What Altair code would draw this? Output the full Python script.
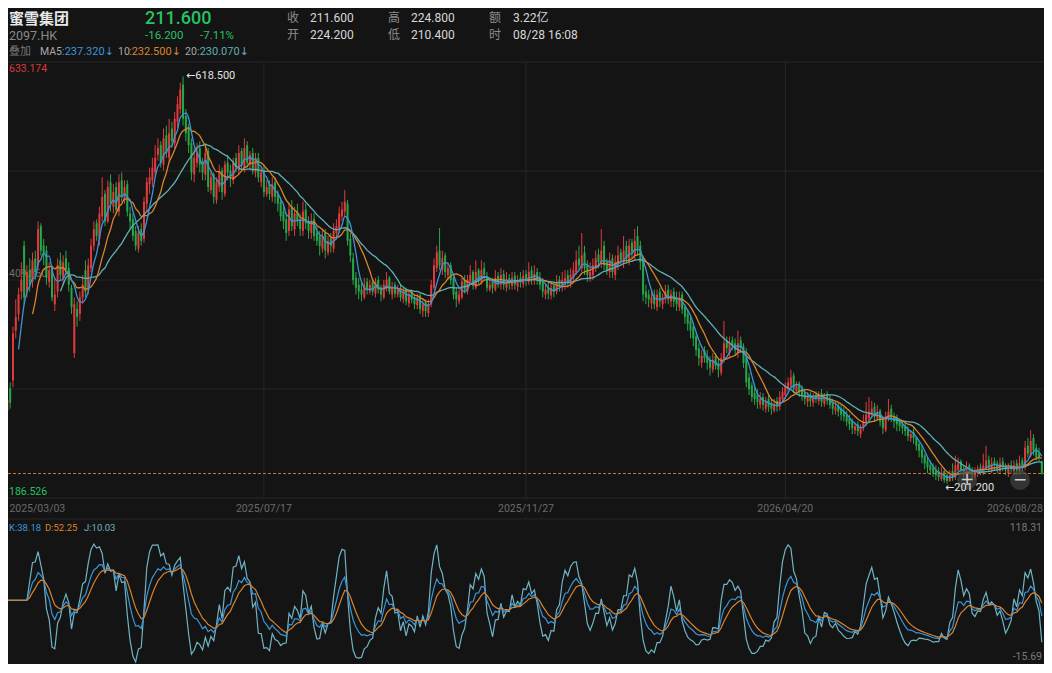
import altair as alt
import pandas as pd

# ---------------- data ----------------
opens = [
    276, 299, 307, 358, 375, 398, 445, 398, 420, 408,
    432, 425, 465, 445, 440, 408, 422, 385, 398, 430,
    412, 432, 422, 402, 335, 380, 375, 392, 420, 400,
    422, 445, 468, 452, 475, 498, 470, 510, 485, 505,
    480, 512, 492, 508, 478, 472, 460, 442, 462, 452,
    488, 508, 512, 520, 538, 548, 528, 558, 535, 565,
    550, 572, 585, 610, 578, 565, 550, 518, 530, 545,
    530, 518, 542, 502, 518, 492, 505, 522, 498, 530,
    522, 512, 535, 522, 542, 525, 548, 528, 540, 520,
    535, 510, 522, 498, 508, 495, 510, 498, 490, 480,
    472, 460, 485, 462, 480, 472, 460, 482, 470, 458,
    472, 458, 455, 442, 458, 438, 452, 442, 458, 462,
    475, 480, 488, 452, 432, 412, 405, 400, 392, 408,
    398, 408, 396, 410, 402, 392, 402, 412, 395, 405,
    395, 402, 390, 400, 386, 398, 392, 384, 394, 378,
    388, 376, 385, 402, 422, 440, 420, 435, 415, 425,
    412, 398, 388, 392, 410, 398, 408, 418, 402, 420,
    408, 422, 414, 400, 408, 400, 414, 405, 416, 402,
    412, 404, 414, 403, 412, 406, 416, 408, 420, 410,
    418, 412, 408, 395, 402, 394, 404, 398, 410, 402,
    405, 415, 406, 412, 418, 432, 422, 438, 425, 412,
    415, 422, 436, 428, 445, 428, 418, 432, 415, 425,
    438, 428, 445, 430, 448, 435, 455, 445, 432, 398,
    395, 386, 395, 382, 398, 385, 390, 400, 388, 398,
    392, 382, 395, 382, 375, 368, 362, 352, 340, 325,
    338, 332, 328, 318, 332, 325, 315, 328, 348, 335,
    348, 345, 335, 348, 342, 330, 310, 302, 294, 292,
    282, 290, 278, 288, 284, 276, 286, 280, 288, 292,
    298, 302, 312, 296, 304, 298, 295, 285, 292, 284,
    292, 286, 294, 283, 292, 288, 284, 276, 282, 278,
    275, 272, 268, 265, 256, 262, 252, 258, 264, 268,
    272, 280, 268, 276, 268, 256, 268, 278, 270, 268,
    265, 262, 260, 256, 248, 254, 248, 242, 236, 230,
    224, 220, 218, 215, 214, 206, 214, 210, 204, 214,
    208, 215, 224, 216, 210, 220, 216, 208, 212, 218,
    212, 218, 226, 215, 224, 222, 214, 224, 220, 212,
    220, 214, 222, 214, 225, 218, 240, 230, 248, 238,
    232, 224.2,
]
highs = [
    300, 305, 362, 390, 402, 428, 450, 425, 432, 438,
    440, 470, 468, 452, 445, 428, 425, 412, 432, 438,
    435, 440, 428, 405, 392, 388, 398, 415, 430, 432,
    452, 470, 472, 485, 515, 502, 512, 518, 508, 510,
    518, 520, 512, 512, 485, 478, 465, 465, 468, 495,
    515, 525, 535, 548, 555, 552, 565, 568, 575, 572,
    582, 598, 612, 618.5, 585, 570, 555, 545, 550, 552,
    535, 548, 545, 522, 520, 515, 528, 525, 532, 538,
    528, 535, 540, 548, 545, 555, 552, 542, 545, 540,
    540, 525, 528, 512, 512, 515, 515, 502, 495, 485,
    478, 490, 492, 485, 488, 478, 490, 488, 475, 478,
    478, 465, 460, 462, 462, 455, 458, 468, 472, 485,
    490, 502, 492, 458, 438, 418, 412, 408, 412, 412,
    410, 412, 412, 414, 405, 410, 418, 414, 408, 408,
    405, 405, 402, 402, 398, 400, 395, 396, 396, 390,
    390, 390, 410, 432, 445, 463, 440, 438, 428, 428,
    415, 402, 400, 412, 415, 415, 425, 420, 430, 422,
    430, 428, 418, 412, 412, 420, 418, 422, 420, 418,
    416, 418, 418, 415, 418, 420, 420, 428, 424, 425,
    422, 418, 412, 405, 408, 408, 408, 415, 414, 418,
    420, 420, 422, 428, 440, 445, 458, 445, 430, 428,
    432, 440, 442, 462, 450, 432, 438, 436, 435, 445,
    442, 455, 450, 452, 452, 462, 465, 450, 435, 405,
    400, 398, 400, 400, 402, 396, 405, 405, 400, 402,
    398, 398, 398, 385, 380, 372, 366, 355, 345, 338,
    342, 338, 332, 335, 335, 330, 335, 368, 352, 352,
    352, 350, 358, 352, 345, 340, 315, 305, 300, 298,
    295, 294, 290, 292, 288, 288, 290, 296, 300, 305,
    310, 318, 315, 306, 306, 302, 298, 295, 295, 294,
    296, 296, 298, 294, 296, 292, 288, 285, 285, 282,
    280, 276, 272, 268, 264, 265, 262, 272, 285, 290,
    286, 284, 282, 278, 270, 275, 288, 282, 274, 272,
    268, 266, 264, 260, 256, 258, 250, 245, 240, 232,
    228, 225, 222, 220, 218, 218, 216, 212, 215, 222,
    230, 228, 226, 220, 224, 222, 218, 218, 220, 222,
    232, 240, 230, 228, 228, 225, 228, 228, 222, 222,
    225, 225, 226, 230, 228, 245, 248, 256, 252, 242,
    238, 224.8,
]
lows = [
    266, 278, 300, 350, 368, 390, 385, 392, 398, 402,
    410, 420, 435, 425, 405, 402, 388, 378, 392, 410,
    405, 415, 398, 375, 330, 362, 368, 385, 392, 395,
    418, 440, 450, 445, 470, 465, 468, 480, 478, 478,
    475, 490, 488, 475, 462, 450, 440, 438, 445, 448,
    480, 498, 505, 515, 532, 525, 522, 535, 530, 545,
    545, 565, 580, 568, 552, 540, 512, 510, 525, 520,
    512, 512, 500, 498, 488, 488, 500, 492, 495, 512,
    505, 508, 520, 518, 522, 520, 525, 522, 518, 515,
    510, 505, 495, 495, 492, 490, 488, 480, 470, 462,
    450, 455, 460, 455, 465, 455, 455, 462, 452, 452,
    450, 445, 435, 438, 432, 435, 438, 438, 452, 458,
    470, 475, 445, 428, 405, 395, 390, 388, 390, 395,
    395, 394, 392, 396, 388, 390, 398, 395, 390, 392,
    392, 388, 386, 384, 382, 386, 380, 380, 375, 372,
    372, 372, 382, 400, 418, 420, 415, 412, 410, 405,
    390, 382, 385, 390, 396, 395, 405, 400, 400, 405,
    405, 410, 398, 398, 396, 398, 402, 400, 400, 398,
    400, 400, 400, 398, 402, 402, 404, 405, 405, 405,
    405, 400, 392, 390, 390, 390, 392, 395, 398, 398,
    400, 402, 402, 408, 415, 420, 418, 415, 408, 408,
    410, 418, 422, 422, 420, 415, 412, 412, 410, 420,
    425, 422, 428, 425, 432, 430, 435, 420, 388, 385,
    382, 380, 380, 378, 382, 380, 386, 385, 382, 382,
    378, 378, 375, 365, 358, 350, 342, 332, 322, 320,
    325, 318, 312, 315, 318, 310, 312, 325, 335, 330,
    338, 332, 330, 335, 320, 300, 292, 285, 282, 278,
    278, 276, 274, 275, 272, 274, 275, 276, 284, 288,
    295, 298, 294, 292, 290, 286, 282, 280, 280, 280,
    284, 282, 280, 280, 282, 278, 272, 272, 270, 266,
    265, 260, 256, 252, 252, 250, 248, 255, 260, 265,
    268, 265, 266, 260, 252, 254, 265, 264, 258, 255,
    255, 252, 250, 245, 244, 242, 235, 228, 222, 216,
    212, 210, 208, 205, 204, 204, 202, 201.2, 203, 204,
    205, 212, 212, 208, 208, 212, 206, 205, 208, 210,
    210, 215, 214, 212, 215, 212, 212, 214, 210, 208,
    212, 210, 210, 212, 212, 215, 228, 228, 230, 225,
    224, 210.4,
]
closes = [
    287, 284, 355, 372, 395, 410, 392, 418, 405, 430,
    418, 462, 440, 438, 412, 420, 392, 395, 425, 415,
    428, 420, 405, 382, 385, 372, 392, 405, 398, 425,
    445, 462, 455, 478, 495, 470, 505, 488, 500, 482,
    510, 495, 505, 480, 470, 455, 445, 458, 450, 490,
    510, 515, 525, 535, 545, 530, 555, 540, 560, 552,
    575, 590, 605, 575, 560, 548, 520, 535, 540, 528,
    520, 540, 505, 515, 495, 510, 520, 500, 528, 520,
    515, 530, 525, 540, 528, 545, 530, 538, 522, 535,
    515, 520, 500, 505, 498, 508, 495, 488, 475, 470,
    458, 482, 465, 478, 470, 462, 480, 468, 460, 470,
    455, 450, 445, 455, 440, 450, 445, 460, 465, 478,
    482, 490, 450, 435, 410, 402, 398, 395, 405, 400,
    405, 398, 408, 400, 395, 405, 410, 398, 402, 396,
    400, 392, 398, 388, 395, 390, 385, 392, 380, 385,
    378, 385, 405, 425, 438, 425, 432, 418, 422, 410,
    395, 390, 395, 408, 400, 410, 415, 405, 418, 410,
    420, 415, 402, 405, 402, 412, 408, 415, 405, 410,
    406, 412, 405, 410, 408, 414, 410, 418, 412, 416,
    410, 405, 398, 400, 396, 402, 398, 408, 404, 410,
    412, 408, 415, 420, 430, 425, 435, 422, 415, 418,
    425, 432, 428, 440, 425, 420, 430, 418, 428, 435,
    430, 440, 432, 445, 438, 450, 440, 428, 395, 392,
    390, 392, 385, 395, 388, 392, 398, 390, 395, 388,
    385, 392, 380, 372, 365, 358, 350, 338, 330, 332,
    330, 325, 320, 328, 322, 318, 330, 345, 340, 345,
    342, 338, 345, 340, 325, 305, 298, 290, 288, 285,
    288, 282, 285, 280, 278, 283, 280, 290, 295, 300,
    305, 310, 298, 302, 295, 292, 288, 290, 286, 290,
    288, 292, 285, 290, 286, 282, 278, 280, 275, 272,
    270, 265, 262, 258, 260, 255, 258, 265, 272, 275,
    278, 270, 275, 265, 258, 270, 275, 268, 265, 262,
    260, 258, 255, 250, 252, 248, 240, 235, 228, 222,
    218, 215, 212, 210, 208, 212, 205, 204, 210, 208,
    220, 222, 215, 212, 218, 215, 210, 213, 216, 214,
    220, 225, 218, 222, 220, 216, 222, 218, 215, 218,
    216, 220, 215, 222, 218, 238, 232, 245, 235, 228,
    227.8, 211.6,
]

date_tick_idx = [0, 92, 186, 279, 371]
date_tick_labels = ["2025/03/03", "2025/07/17", "2025/11/27", "2026/04/20", "2026/08/28"]
price_grid = [633.174, 521.5, 409.86, 298.193, 186.526]
price_top, price_mid, price_bot = 633.174, 409.860, 186.526
kdj_top, kdj_bot = 118.31, -15.69
last_close = 211.6
max_idx, max_high = 63, 618.5
min_idx, min_low = 337, 201.2

header_name = "蜜雪集团"
header_code = "2097.HK"
header_price = "211.600"
header_chg = "-16.200"
header_pct = "-7.11%"
header_close = "211.600"
header_open = "224.200"
header_high = "224.800"
header_low = "210.400"
header_amt = "3.22亿"
header_time = "08/28 16:08"
ma_texts = [":237.320↓", ":232.500↓", ":230.070↓"]
kdj_texts = ["K:38.18", "D:52.25", "J:10.03"]

N = len(closes)
df = pd.DataFrame({"i": list(range(N)), "open": opens, "high": highs,
                   "low": lows, "close": closes})

# KDJ(9,3,3) derived from the candles
Ks, Ds, Js = [], [], []
kp, dp = 50.0, 50.0
for t in range(N):
    if t >= 8:
        ll = min(lows[t - 8:t + 1])
        hh = max(highs[t - 8:t + 1])
        rsv = (closes[t] - ll) / (hh - ll) * 100 if hh > ll else 50.0
        k = (2 * kp + rsv) / 3
        d = (2 * dp + k) / 3
    else:
        k, d = 50.0, 50.0
    Ks.append(k)
    Ds.append(d)
    Js.append(3 * k - 2 * d)
    kp, dp = k, d
kdj = pd.DataFrame({"i": list(range(N)), "K": Ks, "D": Ds, "J": Js})

# ---------------- style ----------------
BG = "#141414"
RED = "#e23b3d"
GREEN = "#26a84a"
GREEN_T = "#27c166"
MA5C = "#3b95d8"
MA10C = "#d9842c"
MA20C = "#5fb0b6"
JC = "#70b4c4"
GRID = "#262626"
NUMF = "Roboto, 'DejaVu Sans', 'Noto Sans CJK SC', sans-serif"
CJKF = "'Noto Sans CJK SC', sans-serif"
W, H = 1036, 656

XS = alt.Scale(domain=[-0.5, 372.5], range=[-2, 1038], padding=0, nice=False, zero=False)
PY = alt.Scale(domain=[price_bot, price_top], range=[490, 54], nice=False, zero=False)
KY = alt.Scale(domain=[kdj_bot, kdj_top], range=[655, 527], nice=False, zero=False, clamp=True)

xi = alt.X("i:Q", scale=XS, axis=None)
one = pd.DataFrame({"a": [0]})


def txt(s, x, y, color, size=12, font=NUMF, weight="normal", align="left", baseline="middle"):
    return alt.Chart(pd.DataFrame({"t": [s]})).mark_text(
        align=align, baseline=baseline, color=color, fontSize=size, font=font, fontWeight=weight
    ).encode(x=alt.value(x), y=alt.value(y), text="t:N")


layers = []

# grid
layers.append(alt.Chart(pd.DataFrame({"v": price_grid})).mark_rule(color=GRID, strokeWidth=1).encode(
    y=alt.Y("v:Q", scale=PY, axis=None), x=alt.value(0), x2=alt.value(W)))
layers.append(alt.Chart(pd.DataFrame({"i": date_tick_idx[1:4]})).mark_rule(color=GRID, strokeWidth=1).encode(
    x=xi, y=alt.value(54), y2=alt.value(491)))
layers.append(alt.Chart(one).mark_rule(color=GRID, strokeWidth=1).encode(
    y=alt.value(511), x=alt.value(0), x2=alt.value(W)))

# price labels
layers.append(alt.Chart(pd.DataFrame({"v": [price_top], "t": ["633.174"]})).mark_text(
    align="left", baseline="top", dy=2, color="#d63c3c", fontSize=10.5, font=NUMF).encode(
    x=alt.value(1), y=alt.Y("v:Q", scale=PY, axis=None), text="t:N"))
layers.append(alt.Chart(pd.DataFrame({"v": [price_mid], "t": ["409.860"]})).mark_text(
    align="left", baseline="bottom", dy=-1, color="#6f6f6f", fontSize=10.5, font=NUMF).encode(
    x=alt.value(1), y=alt.Y("v:Q", scale=PY, axis=None), text="t:N"))
layers.append(alt.Chart(pd.DataFrame({"v": [price_bot], "t": ["186.526"]})).mark_text(
    align="left", baseline="bottom", dy=-1, color=GREEN_T, fontSize=10.5, font=NUMF).encode(
    x=alt.value(1), y=alt.Y("v:Q", scale=PY, axis=None), text="t:N"))

# candles
ccol = alt.condition("datum.close >= datum.open", alt.value(RED), alt.value(GREEN))
layers.append(alt.Chart(df).mark_rule(strokeWidth=1).encode(
    x=xi, y=alt.Y("low:Q", scale=PY, axis=None), y2="high:Q", color=ccol))
layers.append(alt.Chart(df).mark_bar(width=2).encode(
    x=xi, y=alt.Y("open:Q", scale=PY, axis=None), y2="close:Q", color=ccol))


def ma_layer(n, col):
    return alt.Chart(df).transform_window(
        ma="mean(close)", cnt="count()", frame=[-(n - 1), 0], sort=[alt.SortField("i")]
    ).transform_filter(f"datum.cnt >= {n}").mark_line(
        color=col, strokeWidth=1.3, interpolate="monotone"
    ).encode(x=xi, y=alt.Y("ma:Q", scale=PY, axis=None))


layers.append(ma_layer(20, MA20C))
layers.append(ma_layer(10, MA10C))
layers.append(ma_layer(5, MA5C))

# current price dashed line
layers.append(alt.Chart(pd.DataFrame({"v": [last_close]})).mark_rule(
    color="#c9772f", strokeWidth=1, strokeDash=[3, 2]).encode(
    y=alt.Y("v:Q", scale=PY, axis=None), x=alt.value(0), x2=alt.value(W)))

# max / min annotations
layers.append(alt.Chart(pd.DataFrame({"i": [max_idx], "v": [max_high], "t": ["←618.500"]})).mark_text(
    align="left", baseline="middle", dx=3, color="#e2e2e2", fontSize=11, font=NUMF).encode(
    x=xi, y=alt.Y("v:Q", scale=PY, axis=None), text="t:N"))

# zoom buttons overlay (as in the reference screenshot)
for bx in (959, 1012):
    layers.append(alt.Chart(one).mark_circle(color="#4a4a4a", opacity=0.6).encode(
        x=alt.value(bx), y=alt.value(472), size=alt.value(400)))
layers.append(alt.Chart(pd.DataFrame({"i": [min_idx], "v": [min_low], "t": ["←201.200"]})).mark_text(
    align="left", baseline="middle", dx=-2, dy=4, color="#e2e2e2", fontSize=11, font=NUMF).encode(
    x=xi, y=alt.Y("v:Q", scale=PY, axis=None), text="t:N"))
layers.append(txt("+", 959, 472, "#d0d0d0", 17, "DejaVu Sans", align="center"))
layers.append(txt("−", 1012, 472, "#d0d0d0", 17, "DejaVu Sans", align="center"))

# date labels
dates = pd.DataFrame({"i": date_tick_idx, "t": date_tick_labels})
for sub, al, ddx in ((dates.iloc[[0]], "left", 2), (dates.iloc[1:4], "center", 0), (dates.iloc[[4]], "right", 1)):
    layers.append(alt.Chart(sub).mark_text(
        align=al, baseline="middle", dx=ddx, color="#6b6b6b", fontSize=10.5, font=NUMF).encode(
        x=xi, y=alt.value(501), text="t:N"))

# KDJ panel
layers.append(alt.Chart(kdj).mark_line(color=JC, strokeWidth=1.2).encode(
    x=xi, y=alt.Y("J:Q", scale=KY, axis=None)))
layers.append(alt.Chart(kdj).mark_line(color=MA5C, strokeWidth=1.2).encode(
    x=xi, y=alt.Y("K:Q", scale=KY, axis=None)))
layers.append(alt.Chart(kdj).mark_line(color=MA10C, strokeWidth=1.2).encode(
    x=xi, y=alt.Y("D:Q", scale=KY, axis=None)))
layers.append(txt(kdj_texts[0], 1, 520, MA5C, 9.5))
layers.append(txt(kdj_texts[1], 37, 520, MA10C, 9.5))
layers.append(txt(kdj_texts[2], 76, 520, JC, 9.5))
layers.append(txt("118.31", W - 2, 520, "#7a7a7a", 10.5, align="right"))
layers.append(txt("-15.69", W - 2, 649, "#7a7a7a", 10.5, align="right"))

# header
layers += [
    txt(header_name, 1, 11, "#e8e8e8", 15, CJKF, "bold"),
    txt(header_code, 1, 28, "#8a8a8a", 12.5),
    txt(header_price, 137, 11, GREEN_T, 18, weight=500),
    txt(header_chg, 137, 28, GREEN_T, 11.5),
    txt(header_pct, 192, 28, GREEN_T, 11.5),
    txt("收", 279, 10, "#8c8c8c", 12, CJKF),
    txt(header_close, 302, 10, "#d8d8d8", 12),
    txt("开", 279, 27, "#8c8c8c", 12, CJKF),
    txt(header_open, 302, 27, "#d8d8d8", 12),
    txt("高", 380, 10, "#8c8c8c", 12, CJKF),
    txt(header_high, 403, 10, "#d8d8d8", 12),
    txt("低", 380, 27, "#8c8c8c", 12, CJKF),
    txt(header_low, 403, 27, "#d8d8d8", 12),
    txt("额", 481, 10, "#8c8c8c", 12, CJKF),
    txt(header_amt, 505, 10, "#d8d8d8", 12),
    txt("时", 481, 27, "#8c8c8c", 12, CJKF),
    txt(header_time, 505, 27, "#d8d8d8", 12),
    txt("叠加", 1, 44, "#777777", 11, CJKF),
    txt("MA5", 32, 44, "#a8a8a8", 10.5),
    txt(ma_texts[0], 54, 44, MA5C, 11),
    txt("10", 110, 44, "#a8a8a8", 10.5),
    txt(ma_texts[1], 121, 44, MA10C, 11),
    txt("20", 177, 44, "#a8a8a8", 10.5),
    txt(ma_texts[2], 189, 44, MA20C, 11),
]

chart = alt.layer(*layers).resolve_scale(y="independent").properties(
    width=W, height=H, background=BG, padding=0,
    autosize=alt.AutoSizeParams(type="none"),
).configure_view(stroke=None)

chart.save("out.html", embed_options={"renderer": "svg", "actions": False})
